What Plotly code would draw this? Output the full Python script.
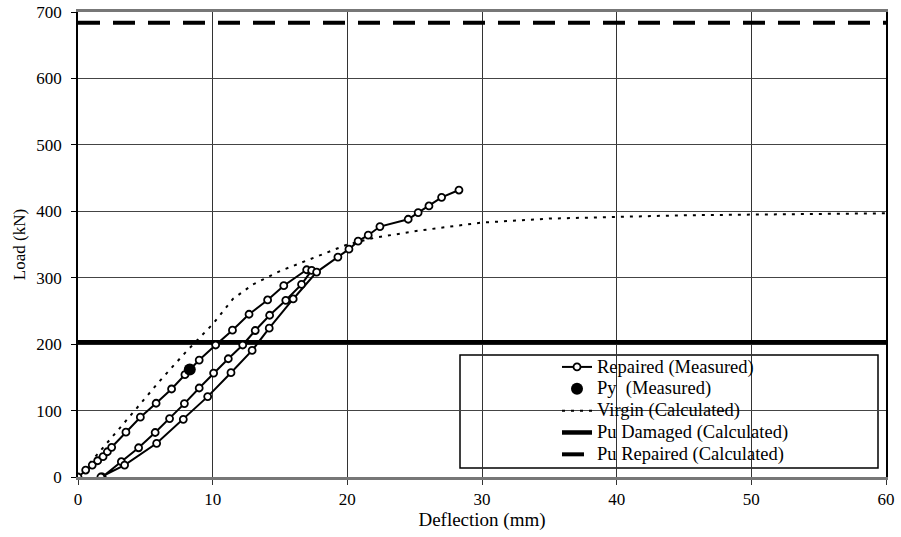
import plotly.graph_objects as go

# Repaired beam, measured load-deflection (first loading, unloading, reloading to failure)
repaired_defl = [
    0.0, 0.57, 1.06, 1.46, 1.86, 2.18, 2.5, 3.56, 4.63, 5.8, 6.95, 7.94, 9.0,
    10.22, 11.47, 12.7, 14.08, 15.28, 16.98,
    17.35, 16.6, 15.43, 14.23, 13.16, 12.23, 11.16, 10.07, 9.0, 7.9, 6.8,
    5.73, 4.5, 3.22, 1.8,
    1.7, 3.46, 5.84, 7.82, 9.63, 11.36, 12.93, 14.2, 15.98, 17.72,
    19.3, 20.12, 20.8, 21.55, 22.42, 24.52, 25.26, 26.06, 27.0, 28.29,
]
repaired_load = [
    0, 10.5, 18, 24.5, 30.6, 38, 44.7, 67.5, 90, 111, 132.5, 154, 176,
    198.7, 221, 245, 266.5, 288, 312,
    311, 290, 266, 243.5, 220.5, 198.7, 178, 156.5, 134, 110.5, 88,
    67, 44, 23, 0,
    0, 18, 50.7, 86.8, 121, 157, 190.5, 224, 268, 308.5,
    331, 343, 355, 364, 377, 388, 398, 408, 421, 432,
]

# Measured yield point
py_defl = [8.3]
py_load = [162]

# Calculated response of the virgin beam
virgin_defl = [0, 2, 4, 6, 8, 10, 11.5, 13, 15, 17, 20, 22, 25, 28, 30, 35, 40, 45, 50, 55, 60]
virgin_load = [0, 47, 95, 143, 188, 230, 268, 290, 310, 326, 350, 360, 370, 378, 383, 389, 392, 394, 395, 396, 397]

# Calculated ultimate capacities (kN)
pu_damaged = 203
pu_repaired = 684
x_span = [0, 60]

x_ticks = [0, 10, 20, 30, 40, 50, 60]
y_ticks = [0, 100, 200, 300, 400, 500, 600, 700]

SERIF = "Liberation Serif, Times New Roman, serif"

# plot area in pixels
PL, PR, PT, PB = 78, 886, 12, 477
PW, PH = PR - PL, PB - PT


def legend_label(text):
    return f"<span style='font-size:18.5px'>{text}</span>"


fig = go.Figure()

fig.add_trace(go.Scatter(
    x=x_span, y=[pu_damaged, pu_damaged], mode="lines",
    line=dict(color="black", width=4.5),
    name=legend_label("Pu Damaged (Calculated)"), legendrank=4,
))
fig.add_trace(go.Scatter(
    x=x_span, y=[pu_repaired, pu_repaired], mode="lines",
    line=dict(color="black", width=4, dash="22px,13px"),
    name=legend_label("Pu Repaired (Calculated)"), legendrank=5,
))
fig.add_trace(go.Scatter(
    x=virgin_defl, y=virgin_load, mode="lines",
    line=dict(color="black", width=2, dash="3px,6px"),
    name=legend_label("Virgin (Calculated)"), legendrank=3,
))
fig.add_trace(go.Scatter(
    x=repaired_defl, y=repaired_load, mode="lines+markers",
    line=dict(color="black", width=2),
    marker=dict(symbol="circle", size=7, color="white",
                line=dict(color="black", width=1.8)),
    name=legend_label("Repaired (Measured)"), legendrank=1,
))
fig.add_trace(go.Scatter(
    x=py_defl, y=py_load, mode="markers",
    marker=dict(symbol="circle", size=12, color="black"),
    name=legend_label("Py\u00a0 (Measured)"), legendrank=2,
))

# White framed box behind the legend entries
fig.add_shape(
    type="rect", xref="paper", yref="paper",
    x0=(460 - PL) / PW, x1=(878 - PL) / PW,
    y0=(PB - 468) / PH, y1=(PB - 355) / PH,
    fillcolor="white", line=dict(color="black", width=1.5), layer="between",
)

fig.update_layout(
    width=901, height=537,
    margin=dict(l=PL, r=901 - PR, t=PT, b=537 - PB),
    paper_bgcolor="white", plot_bgcolor="white",
    font=dict(family=SERIF, color="black", size=17),
    showlegend=True,
    legend=dict(
        x=(557 - PL) / PW, y=(PB - 351) / PH,
        xanchor="left", yanchor="top",
        bgcolor="rgba(0,0,0,0)", borderwidth=0,
        font=dict(family=SERIF, size=14.5, color="black"),
        itemwidth=30,
    ),
)

fig.update_xaxes(
    range=[0, 60], tickvals=x_ticks, automargin=False,
    showgrid=True, gridcolor="#333", gridwidth=1,
    zeroline=False,
    showline=True, linecolor="#777", linewidth=2.5, mirror=True,
    ticks="outside", ticklen=5, tickcolor="#333",
    tickfont=dict(family=SERIF, size=17),
    title=dict(text="Deflection (mm)", font=dict(family=SERIF, size=19), standoff=1),
)
fig.update_yaxes(
    range=[0, 700], tickvals=y_ticks, automargin=False,
    showgrid=True, gridcolor="#444", gridwidth=1,
    zeroline=False,
    showline=True, linecolor="black", linewidth=1.5, mirror=True,
    ticks="outside", ticklen=5, tickcolor="black", ticklabelstandoff=6,
    tickfont=dict(family=SERIF, size=17),
    title=dict(text="Load (kN)", font=dict(family=SERIF, size=17), standoff=6),
)

fig.write_html("out.html")
